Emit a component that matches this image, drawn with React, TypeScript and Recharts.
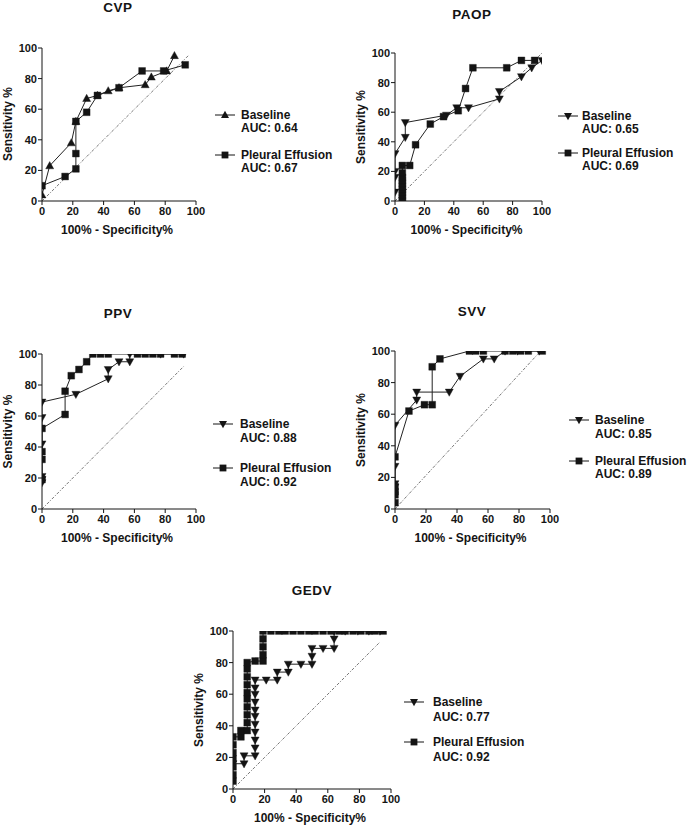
import React from 'react';
import { LineChart, Line, XAxis, YAxis, ReferenceLine } from 'recharts';

// ---------- data ----------
const TICKS = [0, 20, 40, 60, 80, 100];
const X_TITLE = '100%  - Specificity%';
const Y_TITLE = 'Sensitivity %';
const SERIES_NAMES = ['Baseline', 'Pleural Effusion'];

const cvpBaseline = [[0, 4], [5, 23], [19, 38], [22, 52], [29, 67], [36, 69], [43, 72], [50, 74], [67, 76], [71, 81], [81, 85], [86, 95]];
const cvpEffusion = [[0, 10], [15, 16], [22, 21], [22, 31], [22, 52], [29, 58], [36, 69], [50, 74], [65, 85], [79, 85], [93, 89]];
const cvpDiagonal = [95, 95];
const cvpAuc = ['0.64', '0.67'];

const paopBaseline = [[0, 6], [0, 16], [0, 20], [0, 32], [7, 43], [7, 53], [35, 58], [42, 63], [50, 63], [71, 69], [71, 74], [86, 84], [93, 90], [100, 95]];
const paopEffusion = [[5, 0], [5, 2], [5, 4], [5, 6], [5, 8], [5, 10], [5, 12], [5, 14], [5, 16], [5, 19], [5, 24], [10, 24], [14, 38], [24, 52], [33, 57], [43, 61], [48, 76], [53, 90], [76, 90], [86, 95], [95, 95]];
const paopDiagonal = [100, 100];
const paopAuc = ['0.65', '0.69'];

const ppvBaseline = [[0, 17], [0, 19], [0, 21], [0, 42], [0, 59], [0, 69], [22, 74], [43, 84], [43, 90], [50, 95], [57, 95], [57, 100], [77, 100], [92, 100]];
const ppvEffusion = [[0, 19], [0, 32], [0, 37], [0, 52], [15, 61], [15, 76], [19, 86], [24, 90], [29, 95], [33, 100], [38, 100], [43, 100], [62, 100], [67, 100], [72, 100], [77, 100], [86, 100], [91, 100]];
const ppvDiagonal = [92, 92];
const ppvAuc = ['0.88', '0.92'];

const svvBaseline = [[0, 14], [0, 16], [0, 27], [0, 53], [14, 69], [14, 74], [35, 74], [42, 84], [57, 95], [64, 95], [71, 100], [79, 100], [93, 100]];
const svvEffusion = [[0, 4], [0, 9], [0, 11], [0, 14], [0, 33], [9, 62], [19, 66], [24, 66], [24, 90], [29, 95], [48, 100], [52, 100], [57, 100], [71, 100], [76, 100], [81, 100], [86, 100], [95, 100]];
const svvDiagonal = [94, 100];
const svvAuc = ['0.85', '0.89'];

const gedvBaseline = [[0, 16], [7, 16], [7, 21], [14, 21], [14, 26], [14, 31], [14, 36], [14, 41], [14, 46], [14, 50], [14, 55], [14, 60], [14, 64], [14, 69], [21, 69], [28, 69], [28, 74], [35, 74], [35, 79], [43, 79], [50, 79], [50, 84], [50, 89], [57, 89], [64, 89], [64, 95], [64, 100], [71, 100], [79, 100], [86, 100], [93, 100]];
const gedvEffusion = [[0, 5], [0, 9], [0, 14], [0, 19], [0, 23], [0, 28], [0, 33], [5, 33], [5, 37], [9, 37], [9, 42], [9, 47], [9, 52], [9, 57], [9, 61], [9, 66], [9, 71], [9, 76], [9, 80], [14, 81], [19, 81], [19, 85], [19, 90], [19, 95], [19, 100], [24, 100], [29, 100], [33, 100], [38, 100], [43, 100], [48, 100], [52, 100], [57, 100], [62, 100], [67, 100], [71, 100], [76, 100], [81, 100], [86, 100], [90, 100], [95, 100]];
const gedvDiagonal = [93, 93];
const gedvAuc = ['0.77', '0.92'];

// ---------- helpers ----------
type Pt = { x: number; y: number };
const toPts = (a: number[][]): Pt[] => a.map(([x, y]) => ({ x, y }));

const FONT = '"Liberation Sans", Arial, Helvetica, sans-serif';
const INK = '#141414';

function markerPath(shape: string, cx: number, cy: number) {
  if (shape === 'square') return `M${cx - 3.4},${cy - 3.4}h6.8v6.8h-6.8z`;
  if (shape === 'up') return `M${cx},${cy - 4.2}L${cx + 4},${cy + 3}L${cx - 4},${cy + 3}z`;
  return `M${cx - 4},${cy - 3}L${cx + 4},${cy - 3}L${cx},${cy + 4.2}z`;
}

const makeDot = (shape: string) => (props: any) => {
  const { cx, cy, index } = props;
  if (cx == null || cy == null) return <g key={`n-${shape}-${index}`} />;
  return <path key={`${shape}-${index}`} d={markerPath(shape, cx, cy)} fill={INK} stroke={INK} strokeWidth={0.4} />;
};

const panels = [
  { name: 'CVP', base: cvpBaseline, pe: cvpEffusion, diag: cvpDiagonal, auc: cvpAuc, baseShape: 'up',
    plot: { px: 42, py: 47.5, pw: 154, ph: 153 }, title: { x: 118, y: 12 },
    legend: { lx: 215, tx: 241, rows: [115, 128, 155, 168] } },
  { name: 'PAOP', base: paopBaseline, pe: paopEffusion, diag: paopDiagonal, auc: paopAuc, baseShape: 'down',
    plot: { px: 395, py: 53, pw: 147, ph: 148 }, title: { x: 472, y: 19 },
    legend: { lx: 558, tx: 582, rows: [116, 129, 153, 166] } },
  { name: 'PPV', base: ppvBaseline, pe: ppvEffusion, diag: ppvDiagonal, auc: ppvAuc, baseShape: 'down',
    plot: { px: 42, py: 354, pw: 154, ph: 155 }, title: { x: 118, y: 318 },
    legend: { lx: 213, tx: 240, rows: [424, 438, 468, 482] } },
  { name: 'SVV', base: svvBaseline, pe: svvEffusion, diag: svvDiagonal, auc: svvAuc, baseShape: 'down',
    plot: { px: 395, py: 351, pw: 155, ph: 158 }, title: { x: 472, y: 316 },
    legend: { lx: 569, tx: 595, rows: [420, 434, 461, 474] } },
  { name: 'GEDV', base: gedvBaseline, pe: gedvEffusion, diag: gedvDiagonal, auc: gedvAuc, baseShape: 'down',
    plot: { px: 233, py: 631, pw: 158, ph: 158 }, title: { x: 312, y: 595 },
    legend: { lx: 404, tx: 433, rows: [702, 717, 742, 757] } },
];

const tickStyle = { fontSize: 11, fontWeight: 700, fill: INK, fontFamily: FONT };

function Panel({ p }: { p: any }) {
  const { px, py, pw, ph } = p.plot;
  return (
    <div style={{ position: 'absolute', left: px - 40, top: py - 10 }}>
      <LineChart width={pw + 50} height={ph + 50} margin={{ top: 10, right: 10, left: 0, bottom: 0 }}>
        <XAxis type="number" dataKey="x" domain={[0, 100]} ticks={TICKS} interval={0} height={40}
          tickSize={4} tickMargin={2} axisLine={{ stroke: INK }} tickLine={{ stroke: INK }} tick={tickStyle} allowDataOverflow />
        <YAxis type="number" domain={[0, 100]} ticks={TICKS} interval={0} width={40}
          tickSize={4} tickMargin={1} axisLine={{ stroke: INK }} tickLine={{ stroke: INK }} tick={tickStyle} allowDataOverflow />
        <ReferenceLine segment={[{ x: 0, y: 0 }, { x: p.diag[0], y: p.diag[1] }]} stroke="#555"
          strokeDasharray="3 1.5 1 1.5" strokeWidth={0.8} ifOverflow="visible" />
        <Line data={toPts(p.base)} dataKey="y" type="linear" stroke="#222" strokeWidth={1}
          dot={makeDot(p.baseShape)} activeDot={false} isAnimationActive={false} />
        <Line data={toPts(p.pe)} dataKey="y" type="linear" stroke="#222" strokeWidth={1}
          dot={makeDot('square')} activeDot={false} isAnimationActive={false} />
      </LineChart>
    </div>
  );
}

function Texts() {
  return (
    <svg width={689} height={826} style={{ position: 'absolute', left: 0, top: 0, pointerEvents: 'none' }}
      fontFamily={FONT} fontWeight={700} fill={INK}>
      {panels.map((p) => {
        const { px, py, pw, ph } = p.plot;
        const L = p.legend;
        const lx2 = L.lx + 20;
        const mid = (L.lx + lx2) / 2;
        return (
          <g key={p.name}>
            <text x={p.title.x} y={p.title.y} fontSize={13.5} textAnchor="middle" letterSpacing={0.5}>{p.name}</text>
            <text x={px + pw / 2 - 2} y={py + ph + 33} fontSize={12} textAnchor="middle">{X_TITLE}</text>
            <text transform={`translate(${px - 30},${py + ph / 2}) rotate(-90)`} fontSize={12} textAnchor="middle">{Y_TITLE}</text>
            <line x1={L.lx} x2={lx2} y1={L.rows[0]} y2={L.rows[0]} stroke={INK} strokeWidth={1} />
            <path d={markerPath(p.baseShape, mid, L.rows[0])} fill={INK} />
            <line x1={L.lx} x2={lx2} y1={L.rows[2]} y2={L.rows[2]} stroke={INK} strokeWidth={1} />
            <path d={markerPath('square', mid, L.rows[2])} fill={INK} />
            <text x={L.tx} y={L.rows[0] + 4.2} fontSize={12}>{SERIES_NAMES[0]}</text>
            <text x={L.tx} y={L.rows[1] + 4.2} fontSize={12}>{`AUC: ${p.auc[0]}`}</text>
            <text x={L.tx} y={L.rows[2] + 4.2} fontSize={12}>{SERIES_NAMES[1]}</text>
            <text x={L.tx} y={L.rows[3] + 4.2} fontSize={12}>{`AUC: ${p.auc[1]}`}</text>
          </g>
        );
      })}
    </svg>
  );
}

export default function App() {
  return (
    <div style={{ position: 'absolute', left: 0, top: 0, width: 689, height: 826, background: '#fff', fontFamily: FONT }}>
      {panels.map((p) => <Panel key={p.name} p={p} />)}
      <Texts />
    </div>
  );
}
